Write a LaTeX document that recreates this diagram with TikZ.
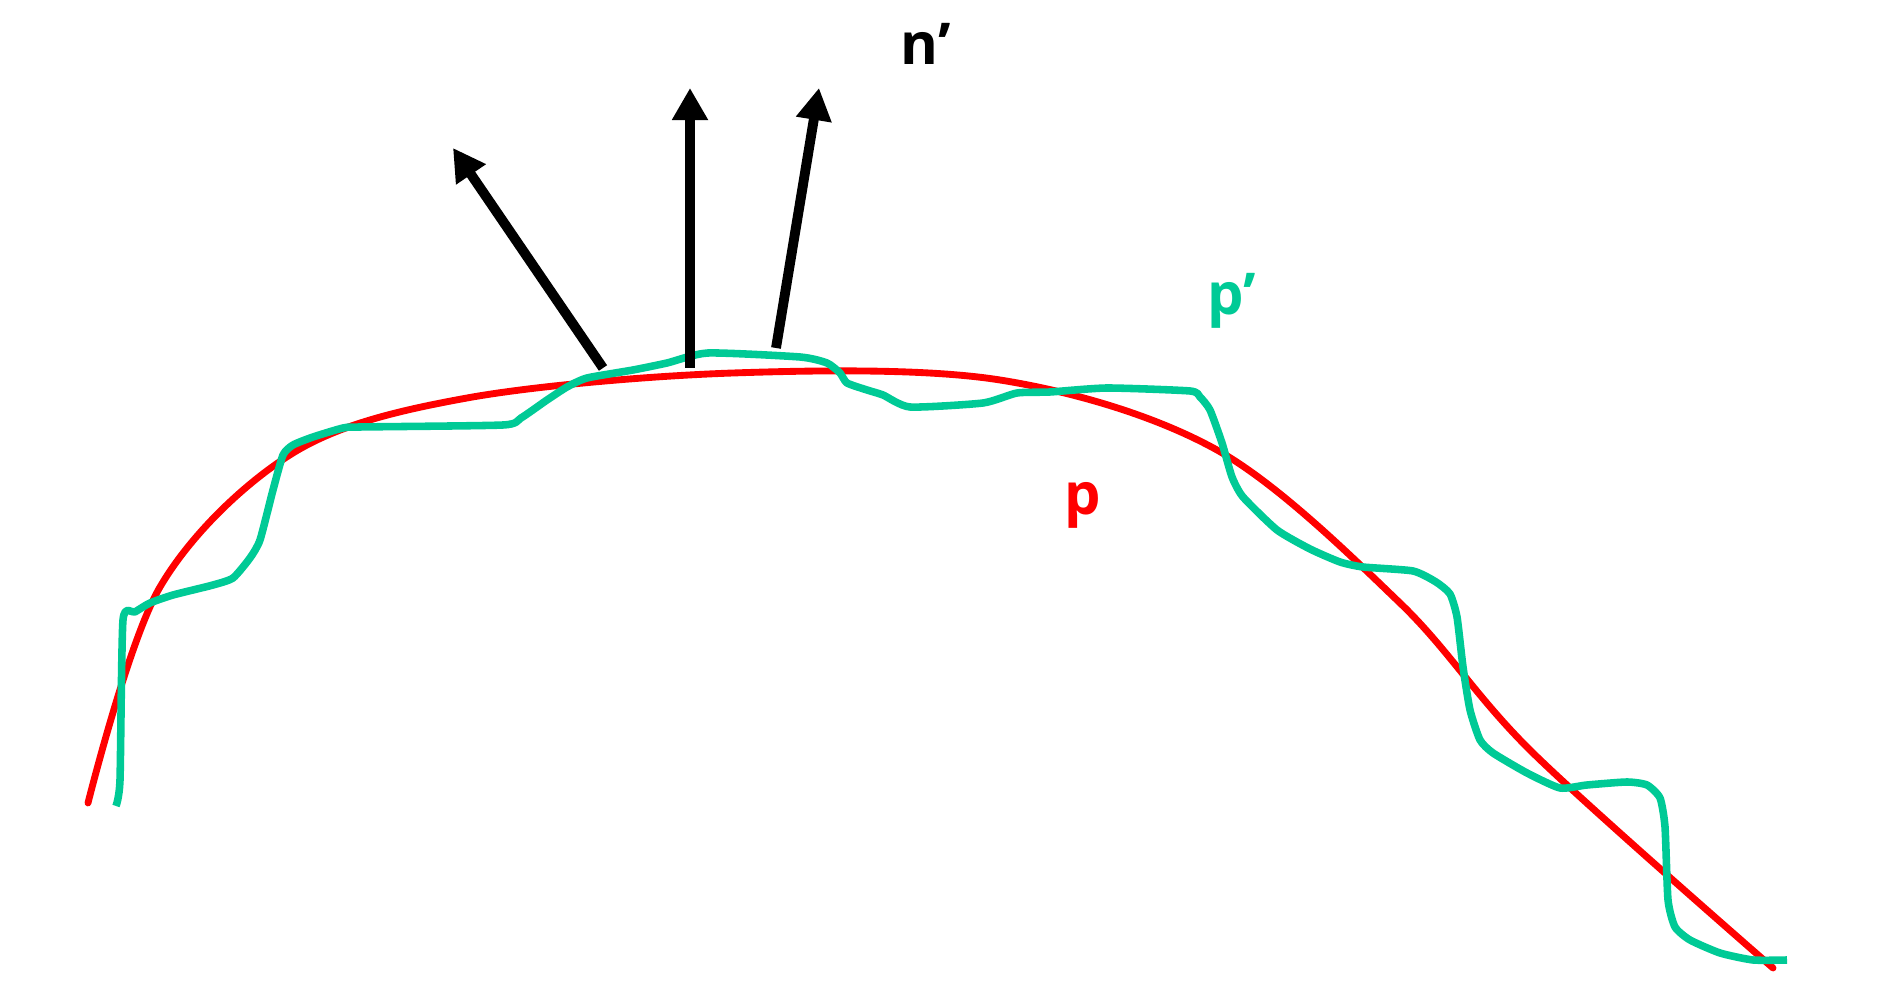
\documentclass[tikz,border=0pt]{standalone}
\usepackage{fontspec}
\setmainfont{Open Sans}
\usepackage{tikz}
\usetikzlibrary{arrows.meta}
\definecolor{surfred}{RGB}{255,0,0}
\definecolor{surfgreen}{RGB}{0,202,150}

\begin{document}
\begin{tikzpicture}[x=0.01cm, y=-0.01cm,
    lbl/.style={font=\fontsize{16.4}{18}\selectfont\bfseries, inner sep=0pt, anchor=base west},
    normalvec/.style={line width=2.8pt, -{Triangle[length=0.32cm,width=0.34cm]}},
    surface/.style={line width=1.95pt, surfred, line cap=round},
    noisy/.style={line width=2.15pt, surfgreen, line join=round}]
    \useasboundingbox (0,0) rectangle (1900,1004);

    % original surface p
    \draw[surface] plot[smooth, tension=0.55] coordinates {
        (88,803) (160,587) (293,453) (467,398) (733,373) (1000,380)
        (1217,450) (1400,603) (1533,753) (1773,968)};

    % perturbed surface p'
    \draw[noisy] plot[smooth, tension=0.35] coordinates {
        (116,806) (120,780) (123,620) (135,612) (150,603) (173,595) (213,585)
        (233,578) (250,558) (260,540) (273,490) (283,455) (293,445) (313,437)
        (343,428) (360,427) (503,425) (521,418) (547,400) (567,387) (587,378)
        (633,370) (667,363) (708,353) (800,357) (827,363) (840,373) (847,383)
        (867,390) (883,395) (910,407) (983,403) (1017,393) (1050,392)
        (1107,388) (1190,391) (1200,397) (1210,410) (1222,443) (1232,477)
        (1243,497) (1277,530) (1310,549) (1340,562) (1363,567) (1413,571)
        (1436,582) (1450,594) (1457,617) (1463,667) (1470,710) (1480,740)
        (1493,753) (1527,773) (1560,788) (1587,785) (1627,782) (1647,785)
        (1660,798) (1665,827) (1668,900) (1675,927) (1690,940) (1720,953)
        (1753,960) (1787,960)};

    % normals
    \coordinate (foot1) at (603,368);
    \coordinate (tip1) at (453,148);
    \coordinate (foot2) at (690,368);
    \coordinate (tip2) at (690,88);
    \coordinate (foot3) at (776,348);
    \coordinate (tip3) at (819,88);
    \draw[normalvec] (foot1) -- (tip1);
    \draw[normalvec] (foot2) -- (tip2);
    \draw[normalvec] (foot3) -- (tip3);

    \node[lbl] (nlabel) at (900,65) {n’};
    \node[lbl, surfgreen] (plabelnew) at (1207,315) {p’};
    \node[lbl, surfred] (plabel) at (1064,515) {p};
\end{tikzpicture}
\end{document}
